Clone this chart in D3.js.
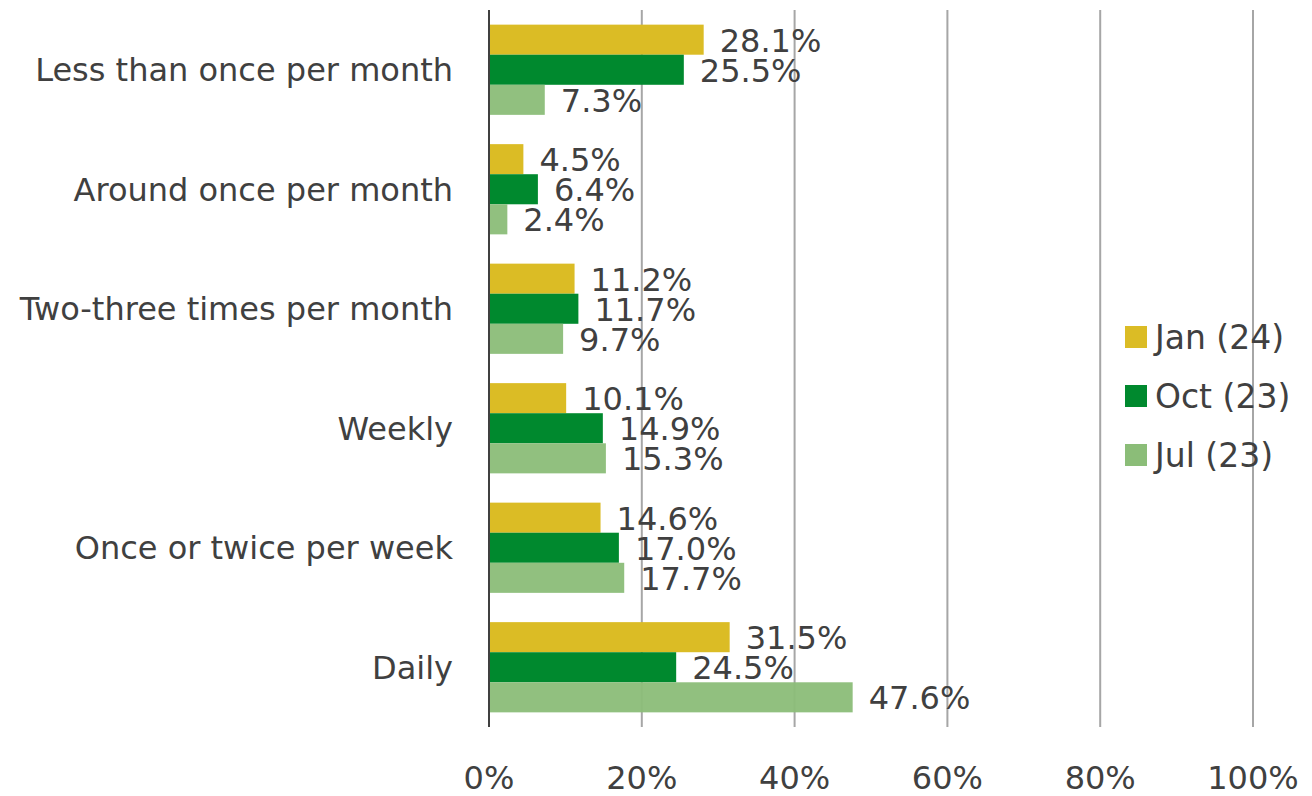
<!DOCTYPE html>
<html>
<head>
<meta charset="utf-8">
<script src="https://cdn.jsdelivr.net/npm/d3@7"></script>
<style>
  html, body { margin: 0; padding: 0; background: #fff; }
  svg { display: block; }
  text { font-family: "DejaVu Sans", Verdana, sans-serif; fill: #404040; }
</style>
</head>
<body>
<div id="chart"></div>
<script>
// Categories, top to bottom
const categories = [
  'Less than once per month',
  'Around once per month',
  'Two-three times per month',
  'Weekly',
  'Once or twice per week',
  'Daily'
];

// Series names and values (percent)
const seriesNames = ['Jan (24)', 'Oct (23)', 'Jul (23)'];
const jan24 = [28.1, 4.5, 11.2, 10.1, 14.6, 31.5];
const oct23 = [25.5, 6.4, 11.7, 14.9, 17.0, 24.5];
const jul23 = [7.3, 2.4, 9.7, 15.3, 17.7, 47.6];
const xTicks = [0, 20, 40, 60, 80, 100];

const colors = ['#dbbc25', '#00892e', '#8bbd78'];

const width = 1312, height = 796;
const margin = { top: 10, right: 59, bottom: 69, left: 489 };
const fontSize = '32px';

const svg = d3.select('#chart').append('svg')
  .attr('width', width)
  .attr('height', height);

const x = d3.scaleLinear().domain([0, 100]).range([margin.left, width - margin.right]);
const y = d3.scaleBand().domain(categories).range([margin.top, height - margin.bottom])
  .paddingInner(0.245).paddingOuter(0.1225);
const ySub = d3.scaleBand().domain(seriesNames).range([0, y.bandwidth()]);

const rows = categories.map((c, i) => ({
  cat: c,
  vals: [jan24[i], oct23[i], jul23[i]].map((v, j) => ({ name: seriesNames[j], value: v, color: colors[j] }))
}));

// gridlines
svg.append('g')
  .attr('class', 'grid')
  .selectAll('line')
  .data(xTicks.filter(d => d > 0))
  .join('line')
  .attr('x1', d => x(d)).attr('x2', d => x(d))
  .attr('y1', margin.top).attr('y2', height - margin.bottom)
  .attr('stroke', '#a6a6a6')
  .attr('stroke-width', 2);

// bars
const groups = svg.append('g').selectAll('g')
  .data(rows)
  .join('g')
  .attr('transform', d => `translate(0,${y(d.cat)})`);

groups.selectAll('rect')
  .data(d => d.vals)
  .join('rect')
  .attr('x', x(0))
  .attr('y', d => ySub(d.name))
  .attr('width', d => x(d.value) - x(0))
  .attr('height', ySub.bandwidth())
  .attr('fill', d => d.color)
  .attr('fill-opacity', (d, i) => i === 2 ? 0.95 : 1);

// data labels
groups.selectAll('text')
  .data(d => d.vals)
  .join('text')
  .attr('x', d => x(d.value) + 16)
  .attr('y', d => ySub(d.name) + ySub.bandwidth() / 2)
  .attr('dy', '0.38em')
  .style('font-size', fontSize)
  .text(d => d.value.toFixed(1) + '%');

// y axis line + category labels
svg.append('line')
  .attr('x1', x(0)).attr('x2', x(0))
  .attr('y1', margin.top).attr('y2', height - margin.bottom)
  .attr('stroke', '#404040')
  .attr('stroke-width', 2);

svg.append('g').selectAll('text')
  .data(categories)
  .join('text')
  .attr('x', x(0) - 36)
  .attr('y', d => y(d) + y.bandwidth() / 2)
  .attr('dy', '0.36em')
  .attr('text-anchor', 'end')
  .style('font-size', fontSize)
  .text(d => d);

// x axis tick labels
svg.append('g').selectAll('text')
  .data(xTicks)
  .join('text')
  .attr('x', d => x(d))
  .attr('y', 777)
  .attr('dy', '0.36em')
  .attr('text-anchor', 'middle')
  .style('font-size', fontSize)
  .text(d => d + '%');

// legend
const legend = svg.append('g').selectAll('g')
  .data(seriesNames)
  .join('g')
  .attr('transform', (d, i) => `translate(1125,${337 + i * 59})`);

legend.append('rect')
  .attr('x', 0).attr('y', -11)
  .attr('width', 22).attr('height', 22)
  .attr('fill', (d, i) => colors[i]);

legend.append('text')
  .attr('x', 30).attr('y', 0)
  .attr('dy', '0.36em')
  .style('font-size', '33px')
  .text(d => d);
</script>
</body>
</html>
